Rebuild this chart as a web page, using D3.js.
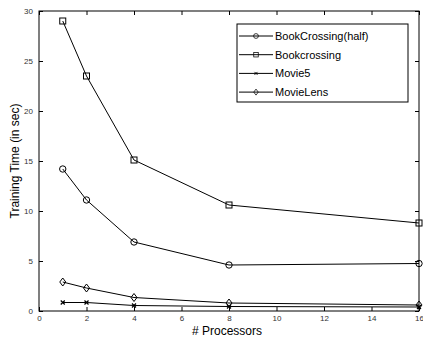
<!DOCTYPE html>
<html lang="en">
<meta charset="utf-8">
<script src="https://cdn.jsdelivr.net/npm/d3@7"></script>
<style>
  body { margin: 0; background: #fff; }
  text { font-family: "Liberation Sans", Arial, sans-serif; }
  .tick text { font-size: 8px; fill: #333; }
</style>
<body>
<script>
// data
var processors = [1, 2, 4, 8, 16];
var bookHalf = [14.2, 11.1, 6.9, 4.6, 4.75];
var bookFull = [29.0, 23.5, 15.1, 10.6, 8.8];
var movie5 = [0.85, 0.85, 0.55, 0.45, 0.4];
var movieLens = [2.9, 2.3, 1.35, 0.8, 0.6];
var seriesNames = ["BookCrossing(half)", "Bookcrossing", "Movie5", "MovieLens"];
var markers = ["circle", "square", "cross", "diamond"];
var xTicks = [0, 2, 4, 6, 8, 10, 12, 14, 16];
var yTicks = [0, 5, 10, 15, 20, 25, 30];

var series = [bookHalf, bookFull, movie5, movieLens].map(function(v, i) {
  return { name: seriesNames[i], marker: markers[i],
    pts: v.map(function(y, j) { return [processors[j], y]; }) };
});

var W = 423, H = 337;
var margin = {top: 11, right: 4, bottom: 26, left: 39};
var width = W - margin.left - margin.right;
var height = H - margin.top - margin.bottom;

var svg = d3.select("body").append("svg")
  .attr("width", W).attr("height", H);
var g = svg.append("g")
  .attr("transform", "translate(" + margin.left + "," + margin.top + ")");

var x = d3.scaleLinear().domain([0, 16]).range([0, width]);
var y = d3.scaleLinear().domain([0, 30]).range([height, 0]);

// axes with inward ticks, matlab style (ticks on all four sides)
function styleAxis(sel) {
  sel.select(".domain").remove();
  sel.selectAll(".tick line").attr("stroke", "#000");
}
g.append("g").attr("transform", "translate(0," + height + ")")
  .call(d3.axisBottom(x).tickValues(xTicks).tickSize(-4).tickPadding(4))
  .call(styleAxis);
g.append("g")
  .call(d3.axisTop(x).tickValues(xTicks).tickSize(-4).tickFormat(""))
  .call(styleAxis);
g.append("g")
  .call(d3.axisLeft(y).tickValues(yTicks).tickSize(-4).tickPadding(6))
  .call(styleAxis);
g.append("g").attr("transform", "translate(" + width + ",0)")
  .call(d3.axisRight(y).tickValues(yTicks).tickSize(-4).tickFormat(""))
  .call(styleAxis);

g.append("rect").attr("width", width).attr("height", height)
  .attr("fill", "none").attr("stroke", "#000").attr("stroke-width", 1);

var line = d3.line()
  .x(function(d) { return x(d[0]); })
  .y(function(d) { return y(d[1]); });

function drawMarker(sel, type) {
  if (type === "circle") {
    sel.append("circle").attr("r", 3.2)
      .attr("fill", "none").attr("stroke", "#000");
  } else if (type === "square") {
    sel.append("rect").attr("x", -3).attr("y", -3).attr("width", 6).attr("height", 6)
      .attr("fill", "none").attr("stroke", "#000");
  } else if (type === "cross") {
    sel.append("path").attr("d", "M-2,-2L2,2M-2,2L2,-2")
      .attr("stroke", "#000").attr("stroke-width", 1.2);
  } else {
    sel.append("path").attr("d", "M0,-4L3,0L0,4L-3,0Z")
      .attr("fill", "none").attr("stroke", "#000");
  }
}

series.forEach(function(s) {
  g.append("path").attr("d", line(s.pts))
    .attr("fill", "none").attr("stroke", "#000").attr("stroke-width", 1);
  g.selectAll(null).data(s.pts).enter().append("g")
    .attr("transform", function(d) { return "translate(" + x(d[0]) + "," + y(d[1]) + ")"; })
    .each(function() { drawMarker(d3.select(this), s.marker); });
});

// axis titles
svg.append("text")
  .attr("x", margin.left + width / 2 - 2).attr("y", 335)
  .attr("text-anchor", "middle").style("font-size", "12px")
  .text("# Processors");
svg.append("text")
  .attr("transform", "translate(19," + (margin.top + height / 2) + ") rotate(-90)")
  .attr("text-anchor", "middle").style("font-size", "12px")
  .text("Training Time (in sec)");

// legend
var leg = svg.append("g").attr("transform", "translate(237,24)");
leg.append("rect").attr("width", 171).attr("height", 78)
  .attr("fill", "#fff").attr("stroke", "#000");
series.forEach(function(s, i) {
  var row = leg.append("g").attr("transform", "translate(0," + (12 + i * 18.7) + ")");
  row.append("line").attr("x1", 2).attr("x2", 36).attr("y1", 0).attr("y2", 0)
    .attr("stroke", "#000");
  var m = row.append("g").attr("transform", "translate(19,0) scale(0.75)");
  drawMarker(m, s.marker);
  row.append("text").attr("x", 38).attr("y", 4)
    .style("font-size", "11px").text(s.name);
});
</script>
</body>
</html>
